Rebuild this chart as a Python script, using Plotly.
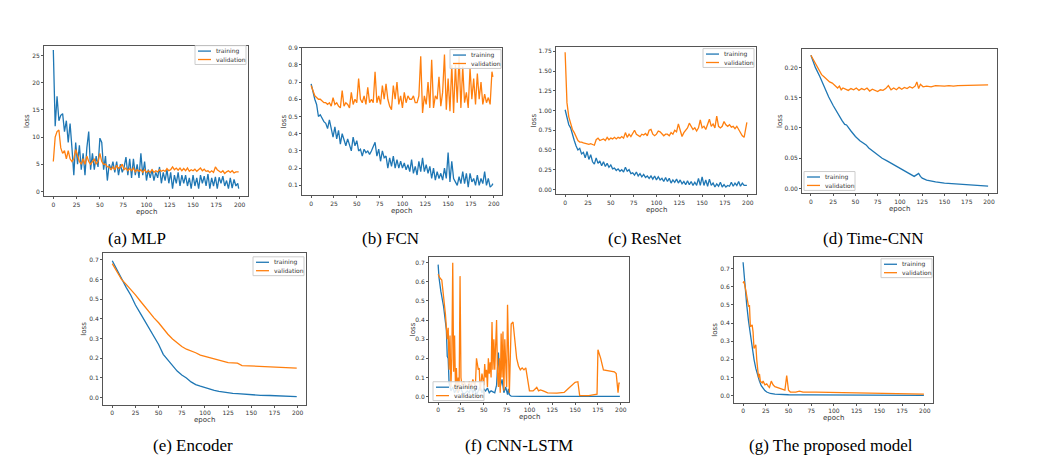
import plotly.graph_objects as go

W, H = 1046, 468
BLUE = "#1f77b4"
ORANGE = "#ff7f0e"
FRAME = "#555555"

X_TICKS = [0, 25, 50, 75, 100, 125, 150, 175, 200]

# epochs for the noisy curves: every second epoch plus the last one
EVEN_EPOCHS = list(range(0, 200, 2)) + [199]

# (a) MLP
MLP_TRAIN = [
    26, 12, 17.5, 13, 14, 14.3, 11, 13, 9, 12.5,
    8, 3, 9, 5, 8.5, 4, 7, 3, 8, 11,
    4, 7, 4, 6.5, 4.5, 9.8, 9, 4, 6.5, 2,
    5, 4, 5.5, 3.5, 5.5, 3, 5, 3.5, 4.5, 6.3,
    3, 6, 2.5, 6, 3, 5, 2.5, 7, 3, 5.5,
    2, 4, 2.5, 4, 2, 3.5, 2.5, 4.5, 1.5, 3.5,
    2, 4, 1.5, 3.5, 0.5, 3, 1.5, 3.5, 1, 3,
    1.5, 3, 1, 2.5, 0.5, 3, 1, 2.5, 0.5, 3,
    1.5, 2.8, 1, 3.2, 0.5, 2.5, 1, 2.7, 0.5, 2.6,
    1.5, 2.8, 1, 2, 0.5, 2.5, 0.6, 2.2, 1, 1.5,
    0.5,
]
MLP_VAL = [
    5.5, 10, 11, 11.3, 8, 7, 7.5, 6, 7.5, 6,
    5.5, 6, 7.7, 6.5, 5.5, 5, 6, 5, 6.5, 5.5,
    5, 5.5, 6, 5, 5.5, 7, 5.5, 5, 5, 4.5,
    4.5, 4, 4.5, 4, 4.8, 4.2, 4.5, 5, 4, 4.3,
    3.8, 4.2, 3.8, 4.3, 3.6, 4, 3.7, 4, 3.5, 4,
    3.5, 3.8, 3.5, 4, 3.5, 3.8, 3.6, 4, 3.7, 3.9,
    3.7, 4.2, 3.8, 4, 4.5, 4, 4.3, 3.9, 4.3, 3.8,
    4.2, 3.8, 4.3, 3.7, 4, 3.8, 4.1, 3.7, 4, 4.3,
    3.8, 4.1, 3.7, 3.8, 3.5, 3.8, 3.5, 4.5, 4, 3.8,
    3.5, 3.8, 3.3, 3.6, 3.8, 3.5, 3.8, 3.4, 3.6, 3.6,
    3.6,
]

# (b) FCN
FCN_TRAIN = [
    0.69, 0.64, 0.6, 0.57, 0.5, 0.51, 0.49, 0.47, 0.46, 0.43,
    0.48, 0.42, 0.38, 0.44, 0.37, 0.42, 0.34, 0.4, 0.36, 0.33,
    0.37, 0.33, 0.3, 0.38, 0.33, 0.36, 0.3, 0.31, 0.27, 0.31,
    0.29, 0.3, 0.28, 0.3, 0.33, 0.35, 0.27, 0.31, 0.24, 0.3,
    0.26, 0.27, 0.2, 0.26, 0.21, 0.27, 0.2, 0.25, 0.2, 0.24,
    0.2, 0.23, 0.19, 0.22, 0.18, 0.25, 0.17, 0.21, 0.16, 0.24,
    0.18, 0.26, 0.18, 0.22, 0.17, 0.21, 0.14, 0.2, 0.13, 0.18,
    0.14, 0.17, 0.13, 0.2, 0.14, 0.29, 0.12, 0.24, 0.14, 0.12,
    0.1, 0.15, 0.11, 0.18, 0.11, 0.17, 0.09, 0.17, 0.12, 0.14,
    0.1, 0.16, 0.1, 0.14, 0.11, 0.18, 0.1, 0.14, 0.09, 0.1,
    0.11,
]
FCN_VAL = [
    0.68, 0.65, 0.62, 0.61, 0.6, 0.6, 0.59, 0.58, 0.58, 0.57,
    0.58, 0.56, 0.61, 0.57, 0.58, 0.56, 0.55, 0.65, 0.56, 0.58,
    0.57, 0.55, 0.64, 0.57, 0.6, 0.58, 0.72, 0.6, 0.58, 0.62,
    0.57, 0.67, 0.58, 0.6, 0.58, 0.76, 0.58, 0.62, 0.57, 0.68,
    0.6, 0.69, 0.6, 0.56, 0.54, 0.68, 0.6, 0.7, 0.57, 0.62,
    0.55, 0.64, 0.58, 0.62, 0.6, 0.6, 0.62, 0.58, 0.58, 0.62,
    0.85, 0.52, 0.62, 0.57, 0.7, 0.55, 0.83, 0.55, 0.62, 0.6,
    0.73, 0.56, 0.64, 0.86, 0.54, 0.72, 0.53, 0.8, 0.52, 0.8,
    0.58, 0.85, 0.55, 0.79, 0.58, 0.64, 0.55, 0.78, 0.6, 0.72,
    0.57, 0.75, 0.6, 0.7, 0.57, 0.63, 0.58, 0.61, 0.57, 0.76,
    0.73,
]

# (c) ResNet
RESNET_TRAIN = [
    1.01, 0.9, 0.82, 0.78, 0.68, 0.62, 0.55, 0.5, 0.52, 0.45,
    0.47, 0.4, 0.48, 0.38, 0.44, 0.35, 0.32, 0.4, 0.33, 0.36,
    0.3, 0.35, 0.29, 0.33, 0.28, 0.31, 0.26, 0.27, 0.24, 0.26,
    0.23, 0.25, 0.22, 0.28, 0.23, 0.25, 0.2, 0.21, 0.18, 0.22,
    0.17, 0.2, 0.16, 0.19, 0.15, 0.17, 0.14, 0.17, 0.13, 0.17,
    0.12, 0.16, 0.12, 0.14, 0.1, 0.15, 0.1, 0.14, 0.08, 0.12,
    0.09, 0.13, 0.08, 0.12, 0.07, 0.1, 0.06, 0.11, 0.06, 0.1,
    0.05, 0.09, 0.05, 0.14, 0.05, 0.16, 0.05, 0.12, 0.04, 0.13,
    0.05, 0.08, 0.03, 0.07, 0.04, 0.09, 0.03, 0.06, 0.03, 0.05,
    0.04, 0.09, 0.04, 0.08, 0.05, 0.1, 0.04, 0.08, 0.05, 0.05,
    0.05,
]
RESNET_VAL = [
    1.74, 1.1, 0.92, 0.82, 0.76, 0.72, 0.66, 0.62, 0.6, 0.6,
    0.59, 0.58, 0.58, 0.57, 0.58, 0.57, 0.56, 0.63, 0.65, 0.62,
    0.63, 0.64, 0.62, 0.66, 0.63, 0.65, 0.64, 0.66, 0.64, 0.66,
    0.65, 0.67, 0.65, 0.72, 0.66, 0.7, 0.67, 0.72, 0.75, 0.7,
    0.68, 0.67, 0.7, 0.69, 0.71, 0.68, 0.75, 0.76, 0.7, 0.68,
    0.7, 0.74, 0.73, 0.7, 0.68, 0.7, 0.7, 0.68, 0.72, 0.7,
    0.75, 0.73, 0.83, 0.75, 0.67, 0.72, 0.75, 0.78, 0.84, 0.8,
    0.76, 0.78, 0.74, 0.78, 0.88, 0.78, 0.8, 0.76, 0.82, 0.89,
    0.8, 0.83, 0.78, 0.93, 0.8, 0.78, 0.8, 0.86, 0.82, 0.8,
    0.82, 0.79, 0.8, 0.77, 0.8, 0.76, 0.72, 0.68, 0.66, 0.8,
    0.85,
]

# (d) Time-CNN
TCNN_TRAIN_EPOCHS = [0, 5, 10, 15, 20, 25, 30, 35, 38, 40, 45, 50, 55, 58, 60, 62, 65, 70, 75, 80,
                     85, 90, 95, 100, 105, 110, 116, 119, 121, 123, 125, 130, 135, 140, 150, 160, 170, 180, 190, 199]
TCNN_TRAIN = [0.22, 0.2, 0.185, 0.167, 0.151, 0.137, 0.124, 0.112, 0.106, 0.105, 0.095, 0.086, 0.079, 0.076, 0.074, 0.072, 0.067, 0.061, 0.055, 0.05,
              0.046, 0.042, 0.038, 0.034, 0.03, 0.026, 0.02, 0.023, 0.025, 0.02, 0.017, 0.014, 0.012, 0.011, 0.009, 0.008, 0.007, 0.006, 0.005, 0.004]
TCNN_VAL_EPOCHS = [0, 3, 6, 9, 12, 15, 18, 21, 24, 27, 30, 32, 34, 36, 39, 42, 45, 48, 51, 54,
                   57, 60, 63, 66, 69, 72, 75, 78, 81, 84, 87, 90, 93, 96, 99, 102, 105, 108, 111, 114,
                   117, 119, 121, 123, 126, 130, 135, 140, 145, 150, 155, 160, 165, 170, 175, 180, 185, 190, 195, 199]
TCNN_VAL = [0.22, 0.212, 0.204, 0.196, 0.188, 0.184, 0.18, 0.176, 0.174, 0.17, 0.166, 0.169, 0.163, 0.166, 0.164, 0.162, 0.165, 0.163, 0.166, 0.162,
            0.165, 0.163, 0.166, 0.161, 0.164, 0.162, 0.16, 0.163, 0.162, 0.165, 0.17, 0.163, 0.166, 0.163, 0.167, 0.164, 0.167, 0.165, 0.168, 0.166,
            0.169, 0.176, 0.165, 0.172, 0.168, 0.169, 0.168, 0.17, 0.169, 0.169, 0.17, 0.169, 0.17, 0.17, 0.171, 0.17, 0.171, 0.17, 0.171, 0.171]

# (e) Encoder
ENC_EPOCHS = [0, 5, 10, 15, 20, 25, 30, 35, 40, 45, 50, 55, 60, 65, 70, 75, 80, 85, 90, 95,
              100, 105, 110, 115, 120, 125, 130, 135, 140, 145, 150, 160, 170, 180, 190, 199]
ENC_TRAIN = [0.695, 0.65, 0.6, 0.56, 0.52, 0.47, 0.43, 0.39, 0.35, 0.31, 0.27, 0.22, 0.19, 0.16, 0.135, 0.115, 0.1, 0.08, 0.066, 0.058,
             0.05, 0.043, 0.037, 0.032, 0.028, 0.025, 0.022, 0.02, 0.018, 0.016, 0.014, 0.012, 0.011, 0.01, 0.008, 0.005]
ENC_VAL = [0.68, 0.64, 0.6, 0.575, 0.55, 0.522, 0.492, 0.462, 0.432, 0.405, 0.38, 0.35, 0.322, 0.298, 0.278, 0.26, 0.246, 0.238, 0.228, 0.216,
           0.21, 0.204, 0.198, 0.19, 0.183, 0.178, 0.177, 0.175, 0.163, 0.162, 0.162, 0.161, 0.158, 0.155, 0.152, 0.15]

# (f) CNN-LSTM
LSTM_TRAIN_EPOCHS = [0, 1, 3, 6, 9, 10, 11, 12, 14, 16, 18, 20, 22, 24, 26, 28, 30, 32, 34, 36,
                     38, 40, 42, 44, 46, 48, 50, 52, 54, 56, 58, 60, 62, 64, 66, 68, 70, 72, 74, 76,
                     77, 78, 80, 90, 199]
LSTM_TRAIN = [0.69, 0.62, 0.55, 0.47, 0.35, 0.21, 0.2, 0.07, 0.03, 0.05, 0.02, 0.04, 0.02, 0.05, 0.03, 0.01, 0.02, 0.03, 0.02, 0.05,
              0.02, 0.04, 0.01, 0.03, 0.05, 0.02, 0.04, 0.03, 0.045, 0.02, 0.03, 0.025, 0.02, 0.06, 0.23, 0.05, 0.09, 0.02, 0.05, 0.01,
              0.04, 0.01, 0.002, 0.001, 0.001]
LSTM_VAL_EPOCHS = [0, 2, 4, 6, 8, 10, 11, 12, 13, 14, 15, 16, 17, 18, 19, 20, 21, 22, 23, 24,
                   25, 26, 28, 30, 32, 34, 36, 38, 40, 41, 42, 44, 45, 46, 48, 50, 51, 52, 53, 54,
                   55, 56, 57, 58, 59, 60, 61, 62, 64, 65, 66, 67, 68, 69, 70, 71, 72, 73, 74, 75,
                   76, 77, 78, 79, 80, 82, 84, 86, 88, 90, 92, 94, 96, 98, 100, 104, 108, 110, 112, 115,
                   120, 130, 138, 142, 146, 150, 153, 155, 165, 172, 174, 175, 178, 181, 186, 193, 195, 197, 198, 199]
LSTM_VAL = [0.64, 0.62, 0.61, 0.52, 0.43, 0.3, 0.36, 0.14, 0.32, 0.05, 0.2, 0.7, 0.13, 0.32, 0.05, 0.15, 0.02, 0.1, 0.03, 0.63,
            0.1, 0.06, 0.08, 0.06, 0.04, 0.08, 0.05, 0.09, 0.06, 0.08, 0.2, 0.14, 0.15, 0.03, 0.12, 0.06, 0.17, 0.1, 0.14, 0.05,
            0.2, 0.12, 0.18, 0.1, 0.39, 0.14, 0.3, 0.14, 0.4, 0.12, 0.05, 0.2, 0.02, 0.33, 0.1, 0.34, 0.03, 0.3, 0.1, 0.05,
            0.48, 0.1, 0.02, 0.2, 0.38, 0.39, 0.3, 0.2, 0.16, 0.14, 0.15, 0.14, 0.15, 0.08, 0.03, 0.03, 0.048, 0.03, 0.035, 0.03,
            0.02, 0.018, 0.022, 0.04, 0.06, 0.075, 0.078, 0.005, 0.005, 0.01, 0.013, 0.245, 0.2, 0.14, 0.135, 0.13, 0.12, 0.02, 0.07, 0.07]

# (g) The proposed model
PROP_TRAIN_EPOCHS = [0, 2, 4, 6, 8, 10, 12, 14, 16, 18, 20, 22, 24, 26, 28, 30, 35, 40, 50, 75, 100, 150, 199]
PROP_TRAIN = [0.735, 0.6, 0.5, 0.41, 0.33, 0.26, 0.2, 0.15, 0.11, 0.08, 0.055, 0.04, 0.028, 0.02, 0.015, 0.012, 0.008, 0.006, 0.005, 0.004, 0.003, 0.003, 0.002]
PROP_VAL_EPOCHS = [0, 1, 3, 5, 6, 7, 8, 10, 11, 12, 14, 15, 16, 17, 18, 19, 21, 22, 24, 26,
                   28, 29, 31, 33, 35, 38, 40, 43, 46, 48, 49, 50, 52, 58, 62, 66, 80, 100, 120, 130,
                   150, 175, 199]
PROP_VAL = [0.62, 0.63, 0.58, 0.5, 0.49, 0.5, 0.38, 0.39, 0.35, 0.26, 0.28, 0.2, 0.15, 0.1, 0.12, 0.08, 0.07, 0.08, 0.06, 0.065,
            0.05, 0.045, 0.08, 0.06, 0.05, 0.045, 0.04, 0.035, 0.03, 0.11, 0.08, 0.03, 0.02, 0.02, 0.025, 0.02, 0.02, 0.018, 0.015, 0.012,
            0.01, 0.008, 0.008]

# box = (left, right, top, bottom) in pixels; legend = (left, top) of its frame in pixels
PANELS = [
    dict(caption="(a) MLP", cap=(137, 237), box=(44, 248, 42, 194),
         train=(EVEN_EPOCHS, MLP_TRAIN), val=(EVEN_EPOCHS, MLP_VAL),
         yrange=[-0.9, 26.8], yticks=[0, 5, 10, 15, 20, 25], fmt="d", legend=(195, 42), ystand=17),
    dict(caption="(b) FCN", cap=(390, 237), box=(302, 502, 44, 193),
         train=(EVEN_EPOCHS, FCN_TRAIN), val=(EVEN_EPOCHS, FCN_VAL),
         yrange=[0.042, 0.9], yticks=[0.1, 0.2, 0.3, 0.4, 0.5, 0.6, 0.7, 0.8, 0.9], fmt=".1f", legend=(450, 46), ystand=18),
    dict(caption="(c) ResNet", cap=(644, 237), box=(556, 756, 43, 192),
         train=(EVEN_EPOCHS, RESNET_TRAIN), val=(EVEN_EPOCHS, RESNET_VAL),
         yrange=[-0.063, 1.81], yticks=[0, 0.25, 0.5, 0.75, 1.0, 1.25, 1.5, 1.75], fmt=".2f", legend=(703, 45), ystand=22),
    dict(caption="(d) Time-CNN", cap=(873, 237), box=(802, 997, 45, 191),
         train=(TCNN_TRAIN_EPOCHS, TCNN_TRAIN), val=(TCNN_VAL_EPOCHS, TCNN_VAL),
         yrange=[-0.008, 0.231], yticks=[0, 0.05, 0.1, 0.15, 0.2], fmt=".2f", legend=(804, 169), ystand=22),
    dict(caption="(e) Encoder", cap=(193, 445), box=(103, 306, 251, 404),
         train=(ENC_EPOCHS, ENC_TRAIN), val=(ENC_EPOCHS, ENC_VAL),
         yrange=[-0.035, 0.735], yticks=[0, 0.1, 0.2, 0.3, 0.4, 0.5, 0.6, 0.7], fmt=".1f", legend=(253, 255), ystand=19),
    dict(caption="(f) CNN-LSTM", cap=(519, 445), box=(429, 629, 255, 401),
         train=(LSTM_TRAIN_EPOCHS, LSTM_TRAIN), val=(LSTM_VAL_EPOCHS, LSTM_VAL),
         yrange=[-0.026, 0.731], yticks=[0, 0.1, 0.2, 0.3, 0.4, 0.5, 0.6, 0.7], fmt=".1f", legend=(433, 381), ystand=16),
    dict(caption="(g) The proposed model", cap=(831, 445), box=(734, 933, 255, 402),
         train=(PROP_TRAIN_EPOCHS, PROP_TRAIN), val=(PROP_VAL_EPOCHS, PROP_VAL),
         yrange=[-0.038, 0.765], yticks=[0, 0.1, 0.2, 0.3, 0.4, 0.5, 0.6, 0.7], fmt=".1f", legend=(881, 257), ystand=19),
]

LEG_W, LEG_H = 51, 19
small_font = dict(family="DejaVu Sans", size=6, color="#333")
label_font = dict(family="DejaVu Sans", size=7, color="#333")


def px(x, y):
    return x / W, 1 - y / H


fig = go.Figure()
layout = {}
annotations = []
shapes = []

for i, p in enumerate(PANELS, start=1):
    sfx = "" if i == 1 else str(i)
    xa, ya = "x" + sfx, "y" + sfx
    for label, (ex, ey), color in (("training", p["train"], BLUE), ("validation", p["val"], ORANGE)):
        fig.add_trace(go.Scatter(x=ex, y=ey, mode="lines", name=label,
                                 line=dict(color=color, width=1.3),
                                 xaxis=xa, yaxis=ya, showlegend=False))
    left, right, top, bottom = p["box"]
    common = dict(showline=True, mirror=True, linecolor=FRAME, linewidth=1,
                  ticks="outside", ticklen=2, tickcolor=FRAME, tickwidth=1,
                  tickfont=small_font, showgrid=False, zeroline=False)
    layout["xaxis" + sfx] = dict(domain=[left / W, right / W], range=[-10, 209],
                                 tickvals=X_TICKS, anchor=ya, **common)
    layout["yaxis" + sfx] = dict(domain=[1 - bottom / H, 1 - top / H], range=p["yrange"],
                                 tickvals=p["yticks"], tickformat=p["fmt"], anchor=xa, **common)

    # small matplotlib-style legend drawn on top of the lines
    lx, ly = p["legend"]
    x0, y0 = px(lx, ly)
    x1, y1 = px(lx + LEG_W, ly + LEG_H)
    shapes.append(dict(type="rect", xref="paper", yref="paper", x0=x0, y0=y1, x1=x1, y1=y0,
                       fillcolor="rgba(255,255,255,0.85)", line=dict(color="#cccccc", width=1), layer="above"))
    for row, (label, color) in enumerate((("training", BLUE), ("validation", ORANGE))):
        ry = ly + 5.5 + row * 8.5
        sx0, sy = px(lx + 3, ry)
        sx1, _ = px(lx + 16, ry)
        shapes.append(dict(type="line", xref="paper", yref="paper", x0=sx0, y0=sy, x1=sx1, y1=sy,
                           line=dict(color=color, width=1.3), layer="above"))
        tx, _ = px(lx + 19, ry)
        annotations.append(dict(text=label, x=tx, y=sy, xref="paper", yref="paper",
                                xanchor="left", yanchor="middle", showarrow=False, font=small_font))

    cx, cy = px(left - p["ystand"], (top + bottom) / 2)
    annotations.append(dict(text="loss", x=cx, y=cy, xref="paper", yref="paper", textangle=-90,
                            xanchor="center", yanchor="middle", showarrow=False, font=label_font))
    cx, cy = px((left + right) / 2, bottom + 16)
    annotations.append(dict(text="epoch", x=cx, y=cy, xref="paper", yref="paper",
                            xanchor="center", yanchor="middle", showarrow=False, font=label_font))
    cx, cy = px(*p["cap"])
    annotations.append(dict(text=p["caption"], x=cx, y=cy, xref="paper", yref="paper",
                            xanchor="center", yanchor="middle", showarrow=False,
                            font=dict(family="Liberation Serif", size=17, color="black")))

fig.update_layout(width=W, height=H, margin=dict(l=0, r=0, t=0, b=0),
                  paper_bgcolor="white", plot_bgcolor="white", showlegend=False,
                  annotations=annotations, shapes=shapes, **layout)

# the page's default body margin would push the figure 8px right and down
fig.write_html("out.html", config={"displayModeBar": False},
               post_script="document.body.style.margin='0';document.body.style.overflow='hidden';")
